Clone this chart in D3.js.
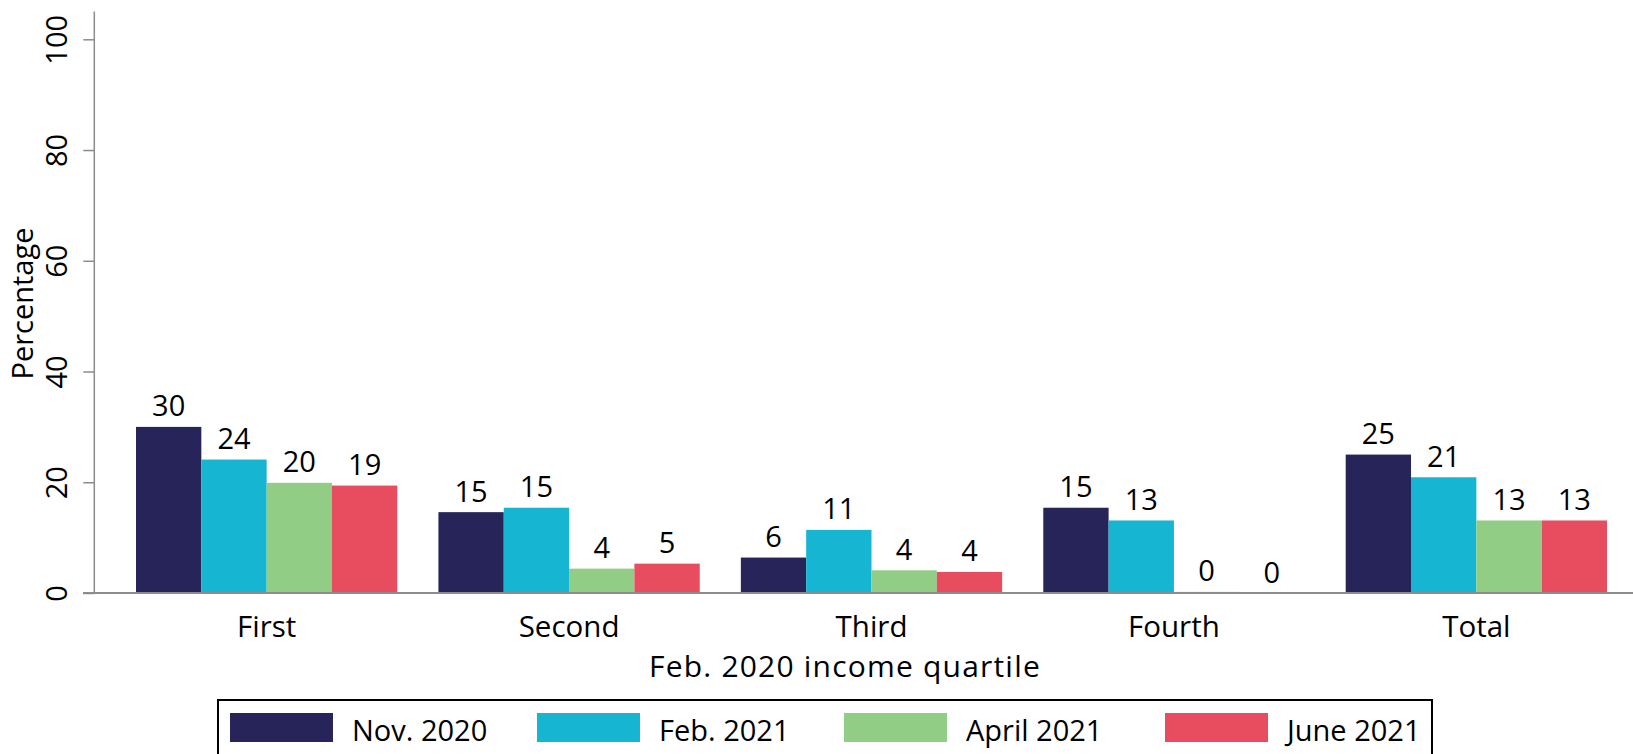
<!DOCTYPE html>
<html>
<head>
<meta charset="utf-8">
<script src="https://cdn.jsdelivr.net/npm/d3@7"></script>
<style>
  body { margin: 0; background: #fff; }
  svg { display: block; font-family: "Open Sans", sans-serif; }
</style>
</head>
<body>
<svg id="chart" width="1633" height="754"></svg>
<script>
"use strict";

// Chart data
const categories = ["First", "Second", "Third", "Fourth", "Total"];
const series = ["Nov. 2020", "Feb. 2021", "April 2021", "June 2021"];
const nov2020 = [30.0, 14.6, 6.4, 15.4, 25.0];
const feb2021 = [24.1, 15.4, 11.4, 13.1, 20.9];
const april2021 = [19.9, 4.4, 4.1, 0.2, 13.1];
const june2021 = [19.4, 5.3, 3.8, 0.0, 13.1];
const yTicks = [0, 20, 40, 60, 80, 100];

const values = [nov2020, feb2021, april2021, june2021];
const colors = ["#272459", "#16b5d1", "#91cd84", "#e84d5f"];

const width = 1633,
  height = 754;
const axisColor = "#8c8c8c";

const svg = d3.select("#chart");

// Scales
const x0 = d3.scaleBand()
  .domain(categories)
  .range([136, 1607])
  .paddingInner(0.136)
  .paddingOuter(0);

const x1 = d3.scaleBand()
  .domain(series)
  .range([0, x0.bandwidth()]);

const y = d3.scaleLinear()
  .domain([0, 100])
  .range([593, 39.3]);

// Flatten into bar records
const bars = [];
categories.forEach((c, i) => {
  series.forEach((s, j) => {
    bars.push({ category: c, series: s, value: values[j][i], color: colors[j] });
  });
});

// Bars
svg.append("g")
  .selectAll("rect")
  .data(bars)
  .join("rect")
  .attr("x", d => x0(d.category) + x1(d.series))
  .attr("y", d => y(d.value))
  .attr("width", x1.bandwidth())
  .attr("height", d => y(0) - y(d.value))
  .attr("fill", d => d.color);

// Value labels
svg.append("g")
  .selectAll("text")
  .data(bars)
  .join("text")
  .attr("x", d => x0(d.category) + x1(d.series) + x1.bandwidth() / 2)
  .attr("y", d => y(d.value) - 10.5)
  .attr("text-anchor", "middle")
  .style("font-size", "29px")
  .style("fill", "#000")
  .text(d => d3.format(".0f")(d.value));

// Y axis
const yAxis = svg.append("g")
  .attr("transform", "translate(94.3,0)")
  .call(d3.axisLeft(y).tickValues(yTicks).tickSize(11).tickSizeOuter(0));

yAxis.select(".domain").remove();
yAxis.selectAll(".tick line")
  .attr("stroke", axisColor)
  .attr("stroke-width", 1.5);
yAxis.selectAll(".tick text")
  .attr("x", 0)
  .attr("y", -27.5)
  .attr("dy", 0)
  .attr("transform", "rotate(-90)")
  .attr("text-anchor", "middle")
  .style("font-size", "29px")
  .style("font-family", "'Open Sans', sans-serif")
  .style("fill", "#000");

svg.append("line")
  .attr("x1", 94.3)
  .attr("x2", 94.3)
  .attr("y1", y(0))
  .attr("y2", y(105))
  .attr("stroke", axisColor)
  .attr("stroke-width", 1.5);

// X axis line
svg.append("line")
  .attr("x1", 83)
  .attr("x2", width)
  .attr("y1", y(0))
  .attr("y2", y(0))
  .attr("stroke", axisColor)
  .attr("stroke-width", 2);

// Category labels
svg.append("g")
  .selectAll("text")
  .data(categories)
  .join("text")
  .attr("x", d => x0(d) + x0.bandwidth() / 2)
  .attr("y", y(0) + 44)
  .attr("text-anchor", "middle")
  .style("font-size", "29.5px")
  .text(d => d);

// Axis titles
svg.append("text")
  .attr("x", 845)
  .attr("y", 677)
  .attr("text-anchor", "middle")
  .style("font-size", "30px")
  .style("letter-spacing", "1.2px")
  .text("Feb. 2020 income quartile");

svg.append("text")
  .attr("transform", "translate(32.5,303.5) rotate(-90)")
  .attr("text-anchor", "middle")
  .style("font-size", "29px")
  .text("Percentage");

// Legend
const legend = svg.append("g");

legend.append("rect")
  .attr("x", 218)
  .attr("y", 700)
  .attr("width", 1214)
  .attr("height", 70)
  .attr("fill", "none")
  .attr("stroke", "#000")
  .attr("stroke-width", 2);

// legend column positions
const legendX = [230, 537, 844, 1165];

const item = legend.selectAll(".legend")
  .data(series)
  .join("g")
  .attr("class", "legend")
  .attr("transform", (_, i) => `translate(${legendX[i]},713)`);

item.append("rect")
  .attr("width", 103)
  .attr("height", 29)
  .attr("fill", (_, i) => colors[i]);

item.append("text")
  .attr("x", 122)
  .attr("y", 28)
  .style("font-size", "29px")
  .text(d => d);
</script>
</body>
</html>
